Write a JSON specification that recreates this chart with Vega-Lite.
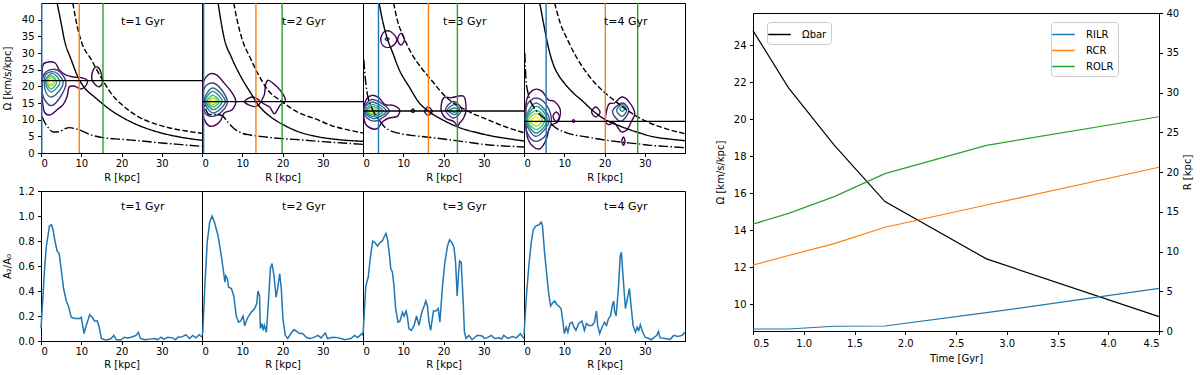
{
"$schema": "https://vega.github.io/schema/vega-lite/v6.json",
"background": "white",
"padding": {"left": 2, "top": 1, "right": 2, "bottom": 0},
"config": {
 "font": "DejaVu Sans",
 "view": {"stroke": "black", "strokeWidth": 1},
 "header": {"labelPadding": 0, "titlePadding": 0},
 "axis": {"grid": false, "labelOverlap": false, "domainColor": "black", "domainWidth": 1, "tickColor": "black", "tickWidth": 1, "tickSize": 3.5, "labelFontSize": 10, "labelColor": "black", "labelPadding": 3.5, "titleFontSize": 10, "titleFontWeight": "normal", "titleColor": "black", "titlePadding": 5},
 "legend": {"symbolType": "M-1.5,0H1.5", "symbolSize": 225, "symbolStrokeWidth": 1.5, "labelFontSize": 10, "labelColor": "black", "fillColor": "rgba(255,255,255,0.8)", "strokeColor": "#cccccc", "cornerRadius": 3, "padding": 4, "rowPadding": 2, "labelOffset": 14, "title": null}
},
"datasets": {
"top": [
{"kind":"v","t":1,"res":"ILR","R":0.2},{"kind":"v","t":1,"res":"CR","R":9.5},{"kind":"v","t":1,"res":"OLR","R":15.4},
{"kind":"v","t":2,"res":"ILR","R":0.4},{"kind":"v","t":2,"res":"CR","R":13.4},{"kind":"v","t":2,"res":"OLR","R":19.9},
{"kind":"v","t":3,"res":"ILR","R":3.85},{"kind":"v","t":3,"res":"CR","R":16.25},{"kind":"v","t":3,"res":"OLR","R":23.45},
{"kind":"v","t":4,"res":"ILR","R":5.5},{"kind":"v","t":4,"res":"CR","R":20.2},{"kind":"v","t":4,"res":"OLR","R":28.25},
{"kind":"h","t":1,"Om":21.7},{"kind":"h","t":2,"Om":15.4},{"kind":"h","t":3,"Om":12.6},{"kind":"h","t":4,"Om":9.5},
{"kind":"lab","t":1,"lab":"t=1 Gyr"},{"kind":"lab","t":2,"lab":"t=2 Gyr"},{"kind":"lab","t":3,"lab":"t=3 Gyr"},{"kind":"lab","t":4,"lab":"t=4 Gyr"},
{"kind":"cu","t":1,"cv":"solid","R":4.0,"Om":45},{"kind":"cu","t":1,"cv":"solid","R":5,"Om":39},{"kind":"cu","t":1,"cv":"solid","R":5.8,"Om":34},{"kind":"cu","t":1,"cv":"solid","R":7.5,"Om":28},{"kind":"cu","t":1,"cv":"solid","R":9.5,"Om":22},{"kind":"cu","t":1,"cv":"solid","R":11,"Om":19.3},{"kind":"cu","t":1,"cv":"solid","R":13.3,"Om":16.8},{"kind":"cu","t":1,"cv":"solid","R":17.4,"Om":12.8},{"kind":"cu","t":1,"cv":"solid","R":22.4,"Om":9.3},{"kind":"cu","t":1,"cv":"solid","R":29,"Om":6.3},{"kind":"cu","t":1,"cv":"solid","R":34,"Om":4.9},{"kind":"cu","t":1,"cv":"solid","R":40,"Om":3.8},
{"kind":"cu","t":1,"cv":"dashed","R":7.9,"Om":45},{"kind":"cu","t":1,"cv":"dashed","R":9,"Om":38},{"kind":"cu","t":1,"cv":"dashed","R":10,"Om":33.5},{"kind":"cu","t":1,"cv":"dashed","R":12.5,"Om":28},{"kind":"cu","t":1,"cv":"dashed","R":15.4,"Om":21.7},{"kind":"cu","t":1,"cv":"dashed","R":18,"Om":17},{"kind":"cu","t":1,"cv":"dashed","R":20,"Om":14.6},{"kind":"cu","t":1,"cv":"dashed","R":24,"Om":11},{"kind":"cu","t":1,"cv":"dashed","R":28,"Om":8.9},{"kind":"cu","t":1,"cv":"dashed","R":32,"Om":7.5},{"kind":"cu","t":1,"cv":"dashed","R":36,"Om":6.6},{"kind":"cu","t":1,"cv":"dashed","R":40,"Om":5.9},
{"kind":"cu","t":1,"cv":"dashdot","R":0.2,"Om":11},{"kind":"cu","t":1,"cv":"dashdot","R":1,"Om":9},{"kind":"cu","t":1,"cv":"dashdot","R":2,"Om":7.3},{"kind":"cu","t":1,"cv":"dashdot","R":3,"Om":6.3},{"kind":"cu","t":1,"cv":"dashdot","R":4.5,"Om":6.4},{"kind":"cu","t":1,"cv":"dashdot","R":6,"Om":7.3},{"kind":"cu","t":1,"cv":"dashdot","R":7,"Om":7.6},{"kind":"cu","t":1,"cv":"dashdot","R":8.5,"Om":7.3},{"kind":"cu","t":1,"cv":"dashdot","R":10,"Om":6.7},{"kind":"cu","t":1,"cv":"dashdot","R":12,"Om":5.6},{"kind":"cu","t":1,"cv":"dashdot","R":15,"Om":4.7},{"kind":"cu","t":1,"cv":"dashdot","R":20,"Om":4.1},{"kind":"cu","t":1,"cv":"dashdot","R":25,"Om":3.6},{"kind":"cu","t":1,"cv":"dashdot","R":30,"Om":3.0},{"kind":"cu","t":1,"cv":"dashdot","R":35,"Om":2.5},{"kind":"cu","t":1,"cv":"dashdot","R":40,"Om":2.0},
{"kind":"cu","t":2,"cv":"solid","R":4,"Om":45},{"kind":"cu","t":2,"cv":"solid","R":5,"Om":37.5},{"kind":"cu","t":2,"cv":"solid","R":5.6,"Om":34},{"kind":"cu","t":2,"cv":"solid","R":7.2,"Om":29},{"kind":"cu","t":2,"cv":"solid","R":9.7,"Om":22.8},{"kind":"cu","t":2,"cv":"solid","R":12.2,"Om":17.8},{"kind":"cu","t":2,"cv":"solid","R":13.4,"Om":15.4},{"kind":"cu","t":2,"cv":"solid","R":15,"Om":13},{"kind":"cu","t":2,"cv":"solid","R":17.1,"Om":10.8},{"kind":"cu","t":2,"cv":"solid","R":20,"Om":8.6},{"kind":"cu","t":2,"cv":"solid","R":23.7,"Om":6.5},{"kind":"cu","t":2,"cv":"solid","R":28.7,"Om":4.9},{"kind":"cu","t":2,"cv":"solid","R":34,"Om":4.0},{"kind":"cu","t":2,"cv":"solid","R":40,"Om":3.5},
{"kind":"cu","t":2,"cv":"dashed","R":7.9,"Om":45},{"kind":"cu","t":2,"cv":"dashed","R":8.7,"Om":40},{"kind":"cu","t":2,"cv":"dashed","R":10,"Om":34},{"kind":"cu","t":2,"cv":"dashed","R":12,"Om":28.5},{"kind":"cu","t":2,"cv":"dashed","R":13.8,"Om":24},{"kind":"cu","t":2,"cv":"dashed","R":16.3,"Om":19},{"kind":"cu","t":2,"cv":"dashed","R":19.9,"Om":15.4},{"kind":"cu","t":2,"cv":"dashed","R":23.7,"Om":12.3},{"kind":"cu","t":2,"cv":"dashed","R":28.7,"Om":10},{"kind":"cu","t":2,"cv":"dashed","R":32,"Om":8.3},{"kind":"cu","t":2,"cv":"dashed","R":36,"Om":7},{"kind":"cu","t":2,"cv":"dashed","R":40,"Om":6},
{"kind":"cu","t":2,"cv":"dashdot","R":0.2,"Om":18},{"kind":"cu","t":2,"cv":"dashdot","R":0.8,"Om":13.5},{"kind":"cu","t":2,"cv":"dashdot","R":2,"Om":11.5},{"kind":"cu","t":2,"cv":"dashdot","R":3.5,"Om":11.6},{"kind":"cu","t":2,"cv":"dashdot","R":5,"Om":11.2},{"kind":"cu","t":2,"cv":"dashdot","R":6.4,"Om":9.3},{"kind":"cu","t":2,"cv":"dashdot","R":8,"Om":7.3},{"kind":"cu","t":2,"cv":"dashdot","R":10,"Om":5.9},{"kind":"cu","t":2,"cv":"dashdot","R":12,"Om":5.4},{"kind":"cu","t":2,"cv":"dashdot","R":15,"Om":4.9},{"kind":"cu","t":2,"cv":"dashdot","R":20,"Om":4.3},{"kind":"cu","t":2,"cv":"dashdot","R":25,"Om":3.9},{"kind":"cu","t":2,"cv":"dashdot","R":30,"Om":3.4},{"kind":"cu","t":2,"cv":"dashdot","R":35,"Om":3.0},{"kind":"cu","t":2,"cv":"dashdot","R":40,"Om":2.6},
{"kind":"cu","t":3,"cv":"solid","R":4.0,"Om":45},{"kind":"cu","t":3,"cv":"solid","R":5,"Om":39},{"kind":"cu","t":3,"cv":"solid","R":6,"Om":34.5},{"kind":"cu","t":3,"cv":"solid","R":7.4,"Om":30},{"kind":"cu","t":3,"cv":"solid","R":9,"Om":25},{"kind":"cu","t":3,"cv":"solid","R":11.5,"Om":19.8},{"kind":"cu","t":3,"cv":"solid","R":14,"Om":15},{"kind":"cu","t":3,"cv":"solid","R":16.2,"Om":12.6},{"kind":"cu","t":3,"cv":"solid","R":20,"Om":9.8},{"kind":"cu","t":3,"cv":"solid","R":24,"Om":7.6},{"kind":"cu","t":3,"cv":"solid","R":28,"Om":6.2},{"kind":"cu","t":3,"cv":"solid","R":32,"Om":5.1},{"kind":"cu","t":3,"cv":"solid","R":36,"Om":4.3},{"kind":"cu","t":3,"cv":"solid","R":40,"Om":3.6},
{"kind":"cu","t":3,"cv":"dashed","R":7.6,"Om":45},{"kind":"cu","t":3,"cv":"dashed","R":8.5,"Om":40},{"kind":"cu","t":3,"cv":"dashed","R":10,"Om":35},{"kind":"cu","t":3,"cv":"dashed","R":12,"Om":30},{"kind":"cu","t":3,"cv":"dashed","R":14.5,"Om":25.5},{"kind":"cu","t":3,"cv":"dashed","R":16.9,"Om":22},{"kind":"cu","t":3,"cv":"dashed","R":20.6,"Om":16.8},{"kind":"cu","t":3,"cv":"dashed","R":23.9,"Om":14},{"kind":"cu","t":3,"cv":"dashed","R":27,"Om":12},{"kind":"cu","t":3,"cv":"dashed","R":31.4,"Om":9.8},{"kind":"cu","t":3,"cv":"dashed","R":35.5,"Om":7.8},{"kind":"cu","t":3,"cv":"dashed","R":40,"Om":6.1},
{"kind":"cu","t":3,"cv":"dashdot","R":0.2,"Om":28},{"kind":"cu","t":3,"cv":"dashdot","R":0.6,"Om":22},{"kind":"cu","t":3,"cv":"dashdot","R":1.2,"Om":17},{"kind":"cu","t":3,"cv":"dashdot","R":2,"Om":14},{"kind":"cu","t":3,"cv":"dashdot","R":3,"Om":11.5},{"kind":"cu","t":3,"cv":"dashdot","R":4.1,"Om":9.8},{"kind":"cu","t":3,"cv":"dashdot","R":5.2,"Om":8},{"kind":"cu","t":3,"cv":"dashdot","R":6.6,"Om":6.8},{"kind":"cu","t":3,"cv":"dashdot","R":9,"Om":5.9},{"kind":"cu","t":3,"cv":"dashdot","R":12,"Om":5.3},{"kind":"cu","t":3,"cv":"dashdot","R":15.7,"Om":4.8},{"kind":"cu","t":3,"cv":"dashdot","R":20,"Om":4.2},{"kind":"cu","t":3,"cv":"dashdot","R":25,"Om":3.4},{"kind":"cu","t":3,"cv":"dashdot","R":31.4,"Om":2.4},{"kind":"cu","t":3,"cv":"dashdot","R":35,"Om":2.1},{"kind":"cu","t":3,"cv":"dashdot","R":40,"Om":1.8},
{"kind":"cu","t":4,"cv":"solid","R":3.9,"Om":45},{"kind":"cu","t":4,"cv":"solid","R":5,"Om":38},{"kind":"cu","t":4,"cv":"solid","R":6,"Om":32},{"kind":"cu","t":4,"cv":"solid","R":7.3,"Om":26.5},{"kind":"cu","t":4,"cv":"solid","R":8.5,"Om":23.5},{"kind":"cu","t":4,"cv":"solid","R":10,"Om":21},{"kind":"cu","t":4,"cv":"solid","R":12,"Om":18.3},{"kind":"cu","t":4,"cv":"solid","R":14.8,"Om":15.3},{"kind":"cu","t":4,"cv":"solid","R":17,"Om":12.8},{"kind":"cu","t":4,"cv":"solid","R":20.2,"Om":10},{"kind":"cu","t":4,"cv":"solid","R":24,"Om":8},{"kind":"cu","t":4,"cv":"solid","R":28,"Om":6.3},{"kind":"cu","t":4,"cv":"solid","R":32,"Om":4.9},{"kind":"cu","t":4,"cv":"solid","R":36,"Om":4.2},{"kind":"cu","t":4,"cv":"solid","R":40,"Om":3.7},
{"kind":"cu","t":4,"cv":"dashed","R":7.6,"Om":45},{"kind":"cu","t":4,"cv":"dashed","R":9,"Om":39},{"kind":"cu","t":4,"cv":"dashed","R":11,"Om":33.5},{"kind":"cu","t":4,"cv":"dashed","R":13,"Om":28.8},{"kind":"cu","t":4,"cv":"dashed","R":15.6,"Om":24},{"kind":"cu","t":4,"cv":"dashed","R":17.6,"Om":21},{"kind":"cu","t":4,"cv":"dashed","R":19.7,"Om":18.5},{"kind":"cu","t":4,"cv":"dashed","R":22,"Om":16.2},{"kind":"cu","t":4,"cv":"dashed","R":24,"Om":14.3},{"kind":"cu","t":4,"cv":"dashed","R":28,"Om":11},{"kind":"cu","t":4,"cv":"dashed","R":31.3,"Om":9},{"kind":"cu","t":4,"cv":"dashed","R":35,"Om":7.4},{"kind":"cu","t":4,"cv":"dashed","R":40,"Om":5.8},
{"kind":"cu","t":4,"cv":"dashdot","R":0.2,"Om":30},{"kind":"cu","t":4,"cv":"dashdot","R":0.5,"Om":22},{"kind":"cu","t":4,"cv":"dashdot","R":1,"Om":18},{"kind":"cu","t":4,"cv":"dashdot","R":2.4,"Om":13.8},{"kind":"cu","t":4,"cv":"dashdot","R":4,"Om":11.5},{"kind":"cu","t":4,"cv":"dashdot","R":5.7,"Om":9.8},{"kind":"cu","t":4,"cv":"dashdot","R":8.2,"Om":7.3},{"kind":"cu","t":4,"cv":"dashdot","R":11,"Om":5.9},{"kind":"cu","t":4,"cv":"dashdot","R":15.6,"Om":4.8},{"kind":"cu","t":4,"cv":"dashdot","R":20,"Om":3.9},{"kind":"cu","t":4,"cv":"dashdot","R":23.9,"Om":3.3},{"kind":"cu","t":4,"cv":"dashdot","R":28,"Om":2.8},{"kind":"cu","t":4,"cv":"dashdot","R":31.3,"Om":2.3},{"kind":"cu","t":4,"cv":"dashdot","R":35,"Om":2.0},{"kind":"cu","t":4,"cv":"dashdot","R":40,"Om":1.6},
{"kind":"c","t":1,"cid":"1a","lev":1,"R":0.4,"Om":26},{"kind":"c","t":1,"cid":"1a","lev":1,"R":1.5,"Om":27.2},{"kind":"c","t":1,"cid":"1a","lev":1,"R":3.5,"Om":27},{"kind":"c","t":1,"cid":"1a","lev":1,"R":4.5,"Om":25},{"kind":"c","t":1,"cid":"1a","lev":1,"R":6,"Om":23.5},{"kind":"c","t":1,"cid":"1a","lev":1,"R":8,"Om":22.8},{"kind":"c","t":1,"cid":"1a","lev":1,"R":10,"Om":22.6},{"kind":"c","t":1,"cid":"1a","lev":1,"R":11.5,"Om":21.8},{"kind":"c","t":1,"cid":"1a","lev":1,"R":11,"Om":20},{"kind":"c","t":1,"cid":"1a","lev":1,"R":9.8,"Om":19.2},{"kind":"c","t":1,"cid":"1a","lev":1,"R":8.5,"Om":20},{"kind":"c","t":1,"cid":"1a","lev":1,"R":7,"Om":19.8},{"kind":"c","t":1,"cid":"1a","lev":1,"R":6.5,"Om":17},{"kind":"c","t":1,"cid":"1a","lev":1,"R":5.5,"Om":14.5},{"kind":"c","t":1,"cid":"1a","lev":1,"R":4,"Om":13},{"kind":"c","t":1,"cid":"1a","lev":1,"R":2.5,"Om":11.5},{"kind":"c","t":1,"cid":"1a","lev":1,"R":1,"Om":12},{"kind":"c","t":1,"cid":"1a","lev":1,"R":0.4,"Om":15},{"kind":"c","t":1,"cid":"1a","lev":1,"R":0.3,"Om":20},
{"kind":"c","t":1,"cid":"1b","lev":2,"R":6.2,"Om":21},{"kind":"c","t":1,"cid":"1b","lev":2,"R":4.8,"Om":24.2},{"kind":"c","t":1,"cid":"1b","lev":2,"R":3,"Om":25.1},{"kind":"c","t":1,"cid":"1b","lev":2,"R":1,"Om":24},{"kind":"c","t":1,"cid":"1b","lev":2,"R":0.3,"Om":21.5},{"kind":"c","t":1,"cid":"1b","lev":2,"R":0.5,"Om":17},{"kind":"c","t":1,"cid":"1b","lev":2,"R":2.5,"Om":14.2},{"kind":"c","t":1,"cid":"1b","lev":2,"R":4.8,"Om":16.8},
{"kind":"c","t":1,"cid":"1c","lev":3,"R":5.5,"Om":21},{"kind":"c","t":1,"cid":"1c","lev":3,"R":4.3,"Om":23.6},{"kind":"c","t":1,"cid":"1c","lev":3,"R":2.8,"Om":24.4},{"kind":"c","t":1,"cid":"1c","lev":3,"R":1.2,"Om":23.5},{"kind":"c","t":1,"cid":"1c","lev":3,"R":0.8,"Om":21},{"kind":"c","t":1,"cid":"1c","lev":3,"R":1.3,"Om":18},{"kind":"c","t":1,"cid":"1c","lev":3,"R":2.6,"Om":16.8},{"kind":"c","t":1,"cid":"1c","lev":3,"R":4.3,"Om":18.3},
{"kind":"c","t":1,"cid":"1d","lev":4,"R":4.7,"Om":21.2},{"kind":"c","t":1,"cid":"1d","lev":4,"R":2.8,"Om":23.9},{"kind":"c","t":1,"cid":"1d","lev":4,"R":1.0,"Om":21.5},{"kind":"c","t":1,"cid":"1d","lev":4,"R":2.5,"Om":18.3},
{"kind":"c","t":1,"cid":"1e","lev":5,"R":3.9,"Om":21.2},{"kind":"c","t":1,"cid":"1e","lev":5,"R":2.6,"Om":23.2},{"kind":"c","t":1,"cid":"1e","lev":5,"R":1.3,"Om":21.5},{"kind":"c","t":1,"cid":"1e","lev":5,"R":2.5,"Om":19.2},
{"kind":"c","t":1,"cid":"1f","lev":6,"R":3.4,"Om":21.4},{"kind":"c","t":1,"cid":"1f","lev":6,"R":2.5,"Om":22.7},{"kind":"c","t":1,"cid":"1f","lev":6,"R":1.6,"Om":21.5},{"kind":"c","t":1,"cid":"1f","lev":6,"R":2.5,"Om":20.2},
{"kind":"c","t":1,"cid":"1g","lev":7,"R":2.9,"Om":21.4},{"kind":"c","t":1,"cid":"1g","lev":7,"R":2.4,"Om":22.2},{"kind":"c","t":1,"cid":"1g","lev":7,"R":1.9,"Om":21.4},{"kind":"c","t":1,"cid":"1g","lev":7,"R":2.4,"Om":20.7},
{"kind":"c","t":1,"cid":"1h","lev":1,"R":12.6,"Om":22.3},{"kind":"c","t":1,"cid":"1h","lev":1,"R":13,"Om":25},{"kind":"c","t":1,"cid":"1h","lev":1,"R":14,"Om":25.8},{"kind":"c","t":1,"cid":"1h","lev":1,"R":14.8,"Om":24.5},{"kind":"c","t":1,"cid":"1h","lev":1,"R":15.3,"Om":21.5},{"kind":"c","t":1,"cid":"1h","lev":1,"R":14.6,"Om":19.9},{"kind":"c","t":1,"cid":"1h","lev":1,"R":13.5,"Om":20.5},
{"kind":"c","t":2,"cid":"2a","lev":1,"R":0.1,"Om":20},{"kind":"c","t":2,"cid":"2a","lev":1,"R":1.5,"Om":23.4},{"kind":"c","t":2,"cid":"2a","lev":1,"R":3.5,"Om":23.5},{"kind":"c","t":2,"cid":"2a","lev":1,"R":5.5,"Om":21},{"kind":"c","t":2,"cid":"2a","lev":1,"R":7.5,"Om":18},{"kind":"c","t":2,"cid":"2a","lev":1,"R":8.4,"Om":15.5},{"kind":"c","t":2,"cid":"2a","lev":1,"R":7.5,"Om":13},{"kind":"c","t":2,"cid":"2a","lev":1,"R":5.5,"Om":12},{"kind":"c","t":2,"cid":"2a","lev":1,"R":4.5,"Om":9.5},{"kind":"c","t":2,"cid":"2a","lev":1,"R":2.5,"Om":8},{"kind":"c","t":2,"cid":"2a","lev":1,"R":1,"Om":9},{"kind":"c","t":2,"cid":"2a","lev":1,"R":0.2,"Om":12},
{"kind":"c","t":2,"cid":"2b","lev":2,"R":6.3,"Om":15.5},{"kind":"c","t":2,"cid":"2b","lev":2,"R":4.5,"Om":19.5},{"kind":"c","t":2,"cid":"2b","lev":2,"R":2.5,"Om":21},{"kind":"c","t":2,"cid":"2b","lev":2,"R":0.6,"Om":19.5},{"kind":"c","t":2,"cid":"2b","lev":2,"R":0.3,"Om":15.5},{"kind":"c","t":2,"cid":"2b","lev":2,"R":0.8,"Om":12},{"kind":"c","t":2,"cid":"2b","lev":2,"R":2.7,"Om":11},{"kind":"c","t":2,"cid":"2b","lev":2,"R":5,"Om":12.5},
{"kind":"c","t":2,"cid":"2c","lev":3,"R":5.8,"Om":15.5},{"kind":"c","t":2,"cid":"2c","lev":3,"R":2.7,"Om":19.5},{"kind":"c","t":2,"cid":"2c","lev":3,"R":0.6,"Om":15.7},{"kind":"c","t":2,"cid":"2c","lev":3,"R":2.8,"Om":12},
{"kind":"c","t":2,"cid":"2d","lev":4,"R":5.0,"Om":15.5},{"kind":"c","t":2,"cid":"2d","lev":4,"R":2.7,"Om":18.5},{"kind":"c","t":2,"cid":"2d","lev":4,"R":0.9,"Om":15.7},{"kind":"c","t":2,"cid":"2d","lev":4,"R":2.8,"Om":13},
{"kind":"c","t":2,"cid":"2e","lev":5,"R":4.3,"Om":15.5},{"kind":"c","t":2,"cid":"2e","lev":5,"R":2.7,"Om":17.3},{"kind":"c","t":2,"cid":"2e","lev":5,"R":1.3,"Om":15.6},{"kind":"c","t":2,"cid":"2e","lev":5,"R":2.7,"Om":13.8},
{"kind":"c","t":2,"cid":"2f","lev":6,"R":3.8,"Om":15.5},{"kind":"c","t":2,"cid":"2f","lev":6,"R":2.7,"Om":16.6},{"kind":"c","t":2,"cid":"2f","lev":6,"R":1.7,"Om":15.5},{"kind":"c","t":2,"cid":"2f","lev":6,"R":2.7,"Om":14.5},
{"kind":"c","t":2,"cid":"2g","lev":7,"R":3.3,"Om":15.5},{"kind":"c","t":2,"cid":"2g","lev":7,"R":2.7,"Om":16.1},{"kind":"c","t":2,"cid":"2g","lev":7,"R":2.0,"Om":15.5},{"kind":"c","t":2,"cid":"2g","lev":7,"R":2.7,"Om":15.0},
{"kind":"c","t":2,"cid":"2h","lev":1,"R":10.6,"Om":15.3},{"kind":"c","t":2,"cid":"2h","lev":1,"R":12.5,"Om":16.8},{"kind":"c","t":2,"cid":"2h","lev":1,"R":14.5,"Om":15.3},{"kind":"c","t":2,"cid":"2h","lev":1,"R":13,"Om":13.9},
{"kind":"c","t":2,"cid":"2i","lev":1,"R":16.5,"Om":21.8},{"kind":"c","t":2,"cid":"2i","lev":1,"R":18.5,"Om":20},{"kind":"c","t":2,"cid":"2i","lev":1,"R":20.2,"Om":17.5},{"kind":"c","t":2,"cid":"2i","lev":1,"R":20.7,"Om":15.5},{"kind":"c","t":2,"cid":"2i","lev":1,"R":19.5,"Om":14.5},{"kind":"c","t":2,"cid":"2i","lev":1,"R":18,"Om":11.8},{"kind":"c","t":2,"cid":"2i","lev":1,"R":16.8,"Om":13.8},{"kind":"c","t":2,"cid":"2i","lev":1,"R":14.8,"Om":15.3},{"kind":"c","t":2,"cid":"2i","lev":1,"R":15.5,"Om":17.5},{"kind":"c","t":2,"cid":"2i","lev":1,"R":15.8,"Om":20.5},
{"kind":"c","t":3,"cid":"3a","lev":1,"R":0.2,"Om":13},{"kind":"c","t":3,"cid":"3a","lev":1,"R":0.8,"Om":16},{"kind":"c","t":3,"cid":"3a","lev":1,"R":2.3,"Om":17.3},{"kind":"c","t":3,"cid":"3a","lev":1,"R":4,"Om":16.5},{"kind":"c","t":3,"cid":"3a","lev":1,"R":5.5,"Om":14.5},{"kind":"c","t":3,"cid":"3a","lev":1,"R":7.5,"Om":14.3},{"kind":"c","t":3,"cid":"3a","lev":1,"R":9.1,"Om":13},{"kind":"c","t":3,"cid":"3a","lev":1,"R":8.5,"Om":11},{"kind":"c","t":3,"cid":"3a","lev":1,"R":6.5,"Om":10.5},{"kind":"c","t":3,"cid":"3a","lev":1,"R":5,"Om":9.5},{"kind":"c","t":3,"cid":"3a","lev":1,"R":3.5,"Om":7.3},{"kind":"c","t":3,"cid":"3a","lev":1,"R":1.8,"Om":7.5},{"kind":"c","t":3,"cid":"3a","lev":1,"R":0.5,"Om":9},
{"kind":"c","t":3,"cid":"3b","lev":2,"R":6.5,"Om":12.6},{"kind":"c","t":3,"cid":"3b","lev":2,"R":4.5,"Om":15},{"kind":"c","t":3,"cid":"3b","lev":2,"R":2,"Om":16},{"kind":"c","t":3,"cid":"3b","lev":2,"R":0.3,"Om":13.5},{"kind":"c","t":3,"cid":"3b","lev":2,"R":1,"Om":10.5},{"kind":"c","t":3,"cid":"3b","lev":2,"R":3.5,"Om":9.7},
{"kind":"c","t":3,"cid":"3c","lev":3,"R":5.8,"Om":12.6},{"kind":"c","t":3,"cid":"3c","lev":3,"R":2.3,"Om":15.3},{"kind":"c","t":3,"cid":"3c","lev":3,"R":0.4,"Om":12.8},{"kind":"c","t":3,"cid":"3c","lev":3,"R":2.5,"Om":10.3},
{"kind":"c","t":3,"cid":"3d","lev":4,"R":5.0,"Om":12.6},{"kind":"c","t":3,"cid":"3d","lev":4,"R":2.4,"Om":14.5},{"kind":"c","t":3,"cid":"3d","lev":4,"R":0.7,"Om":12.7},{"kind":"c","t":3,"cid":"3d","lev":4,"R":2.5,"Om":10.9},
{"kind":"c","t":3,"cid":"3e","lev":5,"R":4.3,"Om":12.6},{"kind":"c","t":3,"cid":"3e","lev":5,"R":2.4,"Om":13.9},{"kind":"c","t":3,"cid":"3e","lev":5,"R":1.0,"Om":12.6},{"kind":"c","t":3,"cid":"3e","lev":5,"R":2.5,"Om":11.4},
{"kind":"c","t":3,"cid":"3f","lev":6,"R":3.6,"Om":12.6},{"kind":"c","t":3,"cid":"3f","lev":6,"R":2.4,"Om":13.3},{"kind":"c","t":3,"cid":"3f","lev":6,"R":1.4,"Om":12.6},{"kind":"c","t":3,"cid":"3f","lev":6,"R":2.4,"Om":11.9},
{"kind":"c","t":3,"cid":"3g","lev":7,"R":3.1,"Om":12.6},{"kind":"c","t":3,"cid":"3g","lev":7,"R":2.4,"Om":12.95},{"kind":"c","t":3,"cid":"3g","lev":7,"R":1.7,"Om":12.6},{"kind":"c","t":3,"cid":"3g","lev":7,"R":2.4,"Om":12.25},
{"kind":"c","t":3,"cid":"3h","lev":1,"R":12.8,"Om":12.6},{"kind":"c","t":3,"cid":"3h","lev":1,"R":12.4,"Om":13.2},{"kind":"c","t":3,"cid":"3h","lev":1,"R":12.0,"Om":12.6},{"kind":"c","t":3,"cid":"3h","lev":1,"R":12.4,"Om":12.1},
{"kind":"c","t":3,"cid":"3i","lev":1,"R":17.2,"Om":12.5},{"kind":"c","t":3,"cid":"3i","lev":1,"R":16.2,"Om":13.8},{"kind":"c","t":3,"cid":"3i","lev":1,"R":15.3,"Om":12.5},{"kind":"c","t":3,"cid":"3i","lev":1,"R":16.2,"Om":11.3},
{"kind":"c","t":3,"cid":"3j","lev":1,"R":19.4,"Om":13},{"kind":"c","t":3,"cid":"3j","lev":1,"R":20,"Om":16.5},{"kind":"c","t":3,"cid":"3j","lev":1,"R":22,"Om":16.6},{"kind":"c","t":3,"cid":"3j","lev":1,"R":25,"Om":17},{"kind":"c","t":3,"cid":"3j","lev":1,"R":25.6,"Om":13},{"kind":"c","t":3,"cid":"3j","lev":1,"R":25,"Om":10.5},{"kind":"c","t":3,"cid":"3j","lev":1,"R":24,"Om":9},{"kind":"c","t":3,"cid":"3j","lev":1,"R":23.5,"Om":8},{"kind":"c","t":3,"cid":"3j","lev":1,"R":22.5,"Om":9.5},{"kind":"c","t":3,"cid":"3j","lev":1,"R":20.5,"Om":10.5},
{"kind":"c","t":3,"cid":"3k","lev":2,"R":24.5,"Om":13},{"kind":"c","t":3,"cid":"3k","lev":2,"R":22.5,"Om":15.5},{"kind":"c","t":3,"cid":"3k","lev":2,"R":20.5,"Om":13},{"kind":"c","t":3,"cid":"3k","lev":2,"R":22.5,"Om":10.5},
{"kind":"c","t":3,"cid":"3l","lev":3,"R":24,"Om":13},{"kind":"c","t":3,"cid":"3l","lev":3,"R":22.7,"Om":14.5},{"kind":"c","t":3,"cid":"3l","lev":3,"R":21,"Om":13},{"kind":"c","t":3,"cid":"3l","lev":3,"R":22.7,"Om":11.5},
{"kind":"c","t":3,"cid":"3m","lev":4,"R":23.8,"Om":12.9},{"kind":"c","t":3,"cid":"3m","lev":4,"R":22.7,"Om":13.5},{"kind":"c","t":3,"cid":"3m","lev":4,"R":21.5,"Om":12.9},{"kind":"c","t":3,"cid":"3m","lev":4,"R":22.7,"Om":12.2},
{"kind":"c","t":3,"cid":"3n","lev":1,"R":4.4,"Om":34},{"kind":"c","t":3,"cid":"3n","lev":1,"R":5.2,"Om":36.3},{"kind":"c","t":3,"cid":"3n","lev":1,"R":7,"Om":36.3},{"kind":"c","t":3,"cid":"3n","lev":1,"R":8.4,"Om":34},{"kind":"c","t":3,"cid":"3n","lev":1,"R":7.2,"Om":32},{"kind":"c","t":3,"cid":"3n","lev":1,"R":5.3,"Om":31.9},
{"kind":"c","t":3,"cid":"3o","lev":2,"R":6.5,"Om":34.2},{"kind":"c","t":3,"cid":"3o","lev":2,"R":6,"Om":34.6},{"kind":"c","t":3,"cid":"3o","lev":2,"R":5.5,"Om":34.2},{"kind":"c","t":3,"cid":"3o","lev":2,"R":6,"Om":33.8},
{"kind":"c","t":3,"cid":"3p","lev":1,"R":8.6,"Om":34},{"kind":"c","t":3,"cid":"3p","lev":1,"R":9.4,"Om":35.9},{"kind":"c","t":3,"cid":"3p","lev":1,"R":10.3,"Om":34},{"kind":"c","t":3,"cid":"3p","lev":1,"R":9.4,"Om":32.4},
{"kind":"c","t":4,"cid":"4a","lev":1,"R":0.4,"Om":12},{"kind":"c","t":4,"cid":"4a","lev":1,"R":0.8,"Om":16.5},{"kind":"c","t":4,"cid":"4a","lev":1,"R":2.5,"Om":19},{"kind":"c","t":4,"cid":"4a","lev":1,"R":4.5,"Om":18.5},{"kind":"c","t":4,"cid":"4a","lev":1,"R":6,"Om":16},{"kind":"c","t":4,"cid":"4a","lev":1,"R":7.5,"Om":15.5},{"kind":"c","t":4,"cid":"4a","lev":1,"R":9,"Om":13},{"kind":"c","t":4,"cid":"4a","lev":1,"R":8.5,"Om":9.5},{"kind":"c","t":4,"cid":"4a","lev":1,"R":6.5,"Om":8},{"kind":"c","t":4,"cid":"4a","lev":1,"R":5.5,"Om":4},{"kind":"c","t":4,"cid":"4a","lev":1,"R":4,"Om":1.3},{"kind":"c","t":4,"cid":"4a","lev":1,"R":2.2,"Om":2},{"kind":"c","t":4,"cid":"4a","lev":1,"R":0.8,"Om":5},
{"kind":"c","t":4,"cid":"4b","lev":2,"R":6.8,"Om":10},{"kind":"c","t":4,"cid":"4b","lev":2,"R":5.5,"Om":14.5},{"kind":"c","t":4,"cid":"4b","lev":2,"R":3,"Om":16.5},{"kind":"c","t":4,"cid":"4b","lev":2,"R":0.8,"Om":14.5},{"kind":"c","t":4,"cid":"4b","lev":2,"R":0.3,"Om":10},{"kind":"c","t":4,"cid":"4b","lev":2,"R":1,"Om":5.5},{"kind":"c","t":4,"cid":"4b","lev":2,"R":3,"Om":3.5},{"kind":"c","t":4,"cid":"4b","lev":2,"R":5.5,"Om":5.5},
{"kind":"c","t":4,"cid":"4c","lev":3,"R":6.3,"Om":10},{"kind":"c","t":4,"cid":"4c","lev":3,"R":3,"Om":15},{"kind":"c","t":4,"cid":"4c","lev":3,"R":0.4,"Om":10},{"kind":"c","t":4,"cid":"4c","lev":3,"R":3,"Om":5},
{"kind":"c","t":4,"cid":"4d","lev":4,"R":5.8,"Om":10},{"kind":"c","t":4,"cid":"4d","lev":4,"R":3.1,"Om":14},{"kind":"c","t":4,"cid":"4d","lev":4,"R":0.6,"Om":10},{"kind":"c","t":4,"cid":"4d","lev":4,"R":3.1,"Om":6},
{"kind":"c","t":4,"cid":"4e","lev":5,"R":5.2,"Om":10},{"kind":"c","t":4,"cid":"4e","lev":5,"R":3.1,"Om":12.8},{"kind":"c","t":4,"cid":"4e","lev":5,"R":0.8,"Om":10},{"kind":"c","t":4,"cid":"4e","lev":5,"R":3.1,"Om":7},
{"kind":"c","t":4,"cid":"4f","lev":6,"R":4.5,"Om":10},{"kind":"c","t":4,"cid":"4f","lev":6,"R":3.1,"Om":11.8},{"kind":"c","t":4,"cid":"4f","lev":6,"R":1.2,"Om":10},{"kind":"c","t":4,"cid":"4f","lev":6,"R":3.1,"Om":8},
{"kind":"c","t":4,"cid":"4g","lev":7,"R":3.8,"Om":9.9},{"kind":"c","t":4,"cid":"4g","lev":7,"R":3.0,"Om":10.8},{"kind":"c","t":4,"cid":"4g","lev":7,"R":1.8,"Om":9.9},{"kind":"c","t":4,"cid":"4g","lev":7,"R":3.0,"Om":9.0},
{"kind":"c","t":4,"cid":"4h","lev":1,"R":8.8,"Om":11},{"kind":"c","t":4,"cid":"4h","lev":1,"R":8,"Om":12.3},{"kind":"c","t":4,"cid":"4h","lev":1,"R":7.2,"Om":11},{"kind":"c","t":4,"cid":"4h","lev":1,"R":8,"Om":9.4},
{"kind":"c","t":4,"cid":"4i","lev":1,"R":12.6,"Om":9.6},{"kind":"c","t":4,"cid":"4i","lev":1,"R":12.3,"Om":10},{"kind":"c","t":4,"cid":"4i","lev":1,"R":12.0,"Om":9.6},{"kind":"c","t":4,"cid":"4i","lev":1,"R":12.3,"Om":9.2},
{"kind":"c","t":4,"cid":"4j","lev":1,"R":18.9,"Om":12.3},{"kind":"c","t":4,"cid":"4j","lev":1,"R":17.8,"Om":13.8},{"kind":"c","t":4,"cid":"4j","lev":1,"R":16.8,"Om":12.3},{"kind":"c","t":4,"cid":"4j","lev":1,"R":17.8,"Om":10.8},
{"kind":"c","t":4,"cid":"4k","lev":1,"R":20.2,"Om":10},{"kind":"c","t":4,"cid":"4k","lev":1,"R":21,"Om":14.5},{"kind":"c","t":4,"cid":"4k","lev":1,"R":22.5,"Om":15},{"kind":"c","t":4,"cid":"4k","lev":1,"R":24.3,"Om":16.8},{"kind":"c","t":4,"cid":"4k","lev":1,"R":26,"Om":15.5},{"kind":"c","t":4,"cid":"4k","lev":1,"R":27.5,"Om":12},{"kind":"c","t":4,"cid":"4k","lev":1,"R":26.5,"Om":9},{"kind":"c","t":4,"cid":"4k","lev":1,"R":25.5,"Om":6.8},{"kind":"c","t":4,"cid":"4k","lev":1,"R":24,"Om":6.5},{"kind":"c","t":4,"cid":"4k","lev":1,"R":22.5,"Om":9},{"kind":"c","t":4,"cid":"4k","lev":1,"R":21,"Om":8.5},
{"kind":"c","t":4,"cid":"4l","lev":2,"R":26,"Om":12.5},{"kind":"c","t":4,"cid":"4l","lev":2,"R":24.5,"Om":15},{"kind":"c","t":4,"cid":"4l","lev":2,"R":22,"Om":12.5},{"kind":"c","t":4,"cid":"4l","lev":2,"R":24,"Om":9.5},
{"kind":"c","t":4,"cid":"4m","lev":3,"R":25.5,"Om":12.8},{"kind":"c","t":4,"cid":"4m","lev":3,"R":24.3,"Om":14.5},{"kind":"c","t":4,"cid":"4m","lev":3,"R":23,"Om":12.8},{"kind":"c","t":4,"cid":"4m","lev":3,"R":24.3,"Om":11},
{"kind":"c","t":4,"cid":"4n","lev":4,"R":25,"Om":13.2},{"kind":"c","t":4,"cid":"4n","lev":4,"R":24.4,"Om":14},{"kind":"c","t":4,"cid":"4n","lev":4,"R":23.8,"Om":13.2},{"kind":"c","t":4,"cid":"4n","lev":4,"R":24.4,"Om":12.5},
{"kind":"c","t":4,"cid":"4o","lev":1,"R":25.1,"Om":3.6},{"kind":"c","t":4,"cid":"4o","lev":1,"R":24.7,"Om":4.8},{"kind":"c","t":4,"cid":"4o","lev":1,"R":24.3,"Om":3.6},{"kind":"c","t":4,"cid":"4o","lev":1,"R":24.7,"Om":2.3}
],
"a2": [
{"t":1,"lab":"t=1 Gyr"},{"t":2,"lab":"t=2 Gyr"},{"t":3,"lab":"t=3 Gyr"},{"t":4,"lab":"t=4 Gyr"},
{"t":1,"R":0,"A":0.1},{"t":1,"R":0.9,"A":0.58},{"t":1,"R":1.3,"A":0.75},{"t":1,"R":2.1,"A":0.92},{"t":1,"R":2.6,"A":0.93},{"t":1,"R":3.0,"A":0.89},{"t":1,"R":3.4,"A":0.81},{"t":1,"R":4.0,"A":0.72},{"t":1,"R":4.5,"A":0.7},{"t":1,"R":5.0,"A":0.58},{"t":1,"R":5.6,"A":0.42},{"t":1,"R":6.3,"A":0.32},{"t":1,"R":6.9,"A":0.27},{"t":1,"R":7.5,"A":0.19},{"t":1,"R":8.3,"A":0.18},{"t":1,"R":9.0,"A":0.18},{"t":1,"R":9.6,"A":0.18},{"t":1,"R":10,"A":0.19},{"t":1,"R":10.7,"A":0.06},{"t":1,"R":11.2,"A":0.12},{"t":1,"R":12.1,"A":0.21},{"t":1,"R":12.7,"A":0.19},{"t":1,"R":13.3,"A":0.16},{"t":1,"R":14,"A":0.16},{"t":1,"R":14.4,"A":0.12},{"t":1,"R":15,"A":0.02},{"t":1,"R":15.8,"A":0.01},{"t":1,"R":16.6,"A":0.01},{"t":1,"R":17.4,"A":0.02},{"t":1,"R":18.1,"A":0.045},{"t":1,"R":18.7,"A":0.01},{"t":1,"R":19.9,"A":0.01},{"t":1,"R":20.7,"A":0.03},{"t":1,"R":21.5,"A":0.025},{"t":1,"R":22.4,"A":0.03},{"t":1,"R":23.6,"A":0.045},{"t":1,"R":24.2,"A":0.07},{"t":1,"R":24.7,"A":0.02},{"t":1,"R":25.7,"A":0.01},{"t":1,"R":27,"A":0.015},{"t":1,"R":28.2,"A":0.02},{"t":1,"R":29,"A":0.01},{"t":1,"R":29.8,"A":0.03},{"t":1,"R":30.5,"A":0.015},{"t":1,"R":31.5,"A":0.03},{"t":1,"R":32.7,"A":0.025},{"t":1,"R":33.4,"A":0.01},{"t":1,"R":34,"A":0.03},{"t":1,"R":35.2,"A":0.035},{"t":1,"R":36,"A":0.05},{"t":1,"R":36.9,"A":0.02},{"t":1,"R":37.7,"A":0.045},{"t":1,"R":38.5,"A":0.025},{"t":1,"R":39.3,"A":0.05},{"t":1,"R":40,"A":0.03},
{"t":2,"R":0,"A":0.05},{"t":2,"R":0.2,"A":0.07},{"t":2,"R":0.7,"A":0.44},{"t":2,"R":1.3,"A":0.79},{"t":2,"R":1.9,"A":0.95},{"t":2,"R":2.5,"A":1.0},{"t":2,"R":3.1,"A":0.95},{"t":2,"R":4.0,"A":0.84},{"t":2,"R":4.8,"A":0.68},{"t":2,"R":5.5,"A":0.52},{"t":2,"R":5.7,"A":0.47},{"t":2,"R":5.9,"A":0.52},{"t":2,"R":6.3,"A":0.5},{"t":2,"R":6.6,"A":0.43},{"t":2,"R":7.3,"A":0.42},{"t":2,"R":7.9,"A":0.36},{"t":2,"R":8.5,"A":0.2},{"t":2,"R":9.1,"A":0.15},{"t":2,"R":9.6,"A":0.16},{"t":2,"R":10.2,"A":0.2},{"t":2,"R":10.6,"A":0.12},{"t":2,"R":11,"A":0.16},{"t":2,"R":11.4,"A":0.19},{"t":2,"R":12.2,"A":0.23},{"t":2,"R":13.1,"A":0.26},{"t":2,"R":13.6,"A":0.3},{"t":2,"R":13.9,"A":0.4},{"t":2,"R":14.3,"A":0.36},{"t":2,"R":14.5,"A":0.1},{"t":2,"R":14.9,"A":0.14},{"t":2,"R":15.2,"A":0.085},{"t":2,"R":15.5,"A":0.125},{"t":2,"R":16,"A":0.07},{"t":2,"R":16.5,"A":0.31},{"t":2,"R":17,"A":0.58},{"t":2,"R":17.4,"A":0.62},{"t":2,"R":17.9,"A":0.52},{"t":2,"R":18.4,"A":0.35},{"t":2,"R":18.8,"A":0.42},{"t":2,"R":19.3,"A":0.54},{"t":2,"R":19.7,"A":0.42},{"t":2,"R":20.1,"A":0.18},{"t":2,"R":20.7,"A":0.045},{"t":2,"R":21.3,"A":0.02},{"t":2,"R":22.1,"A":0.06},{"t":2,"R":22.8,"A":0.09},{"t":2,"R":23.4,"A":0.08},{"t":2,"R":24.2,"A":0.06},{"t":2,"R":25,"A":0.06},{"t":2,"R":25.9,"A":0.03},{"t":2,"R":26.7,"A":0.02},{"t":2,"R":27.5,"A":0.025},{"t":2,"R":28.8,"A":0.045},{"t":2,"R":29.6,"A":0.025},{"t":2,"R":30.6,"A":0.065},{"t":2,"R":31.2,"A":0.02},{"t":2,"R":32.5,"A":0.03},{"t":2,"R":33.7,"A":0.027},{"t":2,"R":34.5,"A":0.02},{"t":2,"R":35.4,"A":0.01},{"t":2,"R":36.2,"A":0.015},{"t":2,"R":37,"A":0.02},{"t":2,"R":37.9,"A":0.045},{"t":2,"R":38.7,"A":0.027},{"t":2,"R":39.7,"A":0.058},{"t":2,"R":40,"A":0.045},
{"t":3,"R":0,"A":0.06},{"t":3,"R":0.1,"A":0.1},{"t":3,"R":0.7,"A":0.44},{"t":3,"R":1.3,"A":0.51},{"t":3,"R":1.8,"A":0.66},{"t":3,"R":2.4,"A":0.8},{"t":3,"R":2.9,"A":0.79},{"t":3,"R":3.6,"A":0.76},{"t":3,"R":4.3,"A":0.79},{"t":3,"R":4.8,"A":0.8},{"t":3,"R":5.2,"A":0.83},{"t":3,"R":5.7,"A":0.86},{"t":3,"R":6.1,"A":0.81},{"t":3,"R":6.5,"A":0.71},{"t":3,"R":6.9,"A":0.58},{"t":3,"R":7.3,"A":0.55},{"t":3,"R":7.7,"A":0.44},{"t":3,"R":8.1,"A":0.26},{"t":3,"R":8.7,"A":0.15},{"t":3,"R":9.2,"A":0.16},{"t":3,"R":9.8,"A":0.23},{"t":3,"R":10.2,"A":0.2},{"t":3,"R":10.7,"A":0.24},{"t":3,"R":11,"A":0.2},{"t":3,"R":11.4,"A":0.1},{"t":3,"R":12,"A":0.085},{"t":3,"R":12.7,"A":0.125},{"t":3,"R":13.3,"A":0.2},{"t":3,"R":13.9,"A":0.125},{"t":3,"R":14.6,"A":0.23},{"t":3,"R":15.2,"A":0.28},{"t":3,"R":15.6,"A":0.32},{"t":3,"R":16,"A":0.28},{"t":3,"R":16.4,"A":0.15},{"t":3,"R":16.8,"A":0.085},{"t":3,"R":17.5,"A":0.24},{"t":3,"R":18.1,"A":0.24},{"t":3,"R":18.7,"A":0.26},{"t":3,"R":19.1,"A":0.15},{"t":3,"R":19.7,"A":0.42},{"t":3,"R":20.3,"A":0.62},{"t":3,"R":21,"A":0.76},{"t":3,"R":21.5,"A":0.81},{"t":3,"R":22,"A":0.79},{"t":3,"R":22.6,"A":0.75},{"t":3,"R":23,"A":0.63},{"t":3,"R":23.4,"A":0.36},{"t":3,"R":23.7,"A":0.52},{"t":3,"R":24,"A":0.64},{"t":3,"R":24.4,"A":0.63},{"t":3,"R":24.9,"A":0.31},{"t":3,"R":25.2,"A":0.07},{"t":3,"R":25.6,"A":0.02},{"t":3,"R":26.3,"A":0.045},{"t":3,"R":27.1,"A":0.01},{"t":3,"R":27.8,"A":0.03},{"t":3,"R":28.4,"A":0.045},{"t":3,"R":29.6,"A":0.04},{"t":3,"R":30.2,"A":0.02},{"t":3,"R":30.9,"A":0.027},{"t":3,"R":31.9,"A":0.045},{"t":3,"R":32.7,"A":0.02},{"t":3,"R":33.8,"A":0.025},{"t":3,"R":34.4,"A":0.015},{"t":3,"R":35,"A":0.045},{"t":3,"R":36,"A":0.02},{"t":3,"R":37.1,"A":0.035},{"t":3,"R":38.1,"A":0.025},{"t":3,"R":39.1,"A":0.058},{"t":3,"R":40,"A":0.02},
{"t":4,"R":0,"A":0.05},{"t":4,"R":0.1,"A":0.1},{"t":4,"R":0.6,"A":0.36},{"t":4,"R":1.2,"A":0.6},{"t":4,"R":1.8,"A":0.79},{"t":4,"R":2.3,"A":0.89},{"t":4,"R":2.9,"A":0.92},{"t":4,"R":3.7,"A":0.93},{"t":4,"R":4.3,"A":0.95},{"t":4,"R":4.6,"A":0.92},{"t":4,"R":5.1,"A":0.71},{"t":4,"R":5.6,"A":0.55},{"t":4,"R":6.1,"A":0.39},{"t":4,"R":6.6,"A":0.28},{"t":4,"R":7,"A":0.3},{"t":4,"R":7.6,"A":0.32},{"t":4,"R":8.2,"A":0.29},{"t":4,"R":8.6,"A":0.28},{"t":4,"R":9.2,"A":0.26},{"t":4,"R":9.7,"A":0.15},{"t":4,"R":10,"A":0.06},{"t":4,"R":10.5,"A":0.11},{"t":4,"R":10.9,"A":0.07},{"t":4,"R":11.4,"A":0.14},{"t":4,"R":12,"A":0.15},{"t":4,"R":12.4,"A":0.11},{"t":4,"R":12.9,"A":0.085},{"t":4,"R":13.6,"A":0.14},{"t":4,"R":14.4,"A":0.16},{"t":4,"R":15,"A":0.085},{"t":4,"R":15.5,"A":0.14},{"t":4,"R":16.1,"A":0.125},{"t":4,"R":16.9,"A":0.125},{"t":4,"R":17.5,"A":0.15},{"t":4,"R":18,"A":0.24},{"t":4,"R":18.3,"A":0.125},{"t":4,"R":18.8,"A":0.06},{"t":4,"R":19.4,"A":0.11},{"t":4,"R":20,"A":0.15},{"t":4,"R":20.5,"A":0.125},{"t":4,"R":21,"A":0.18},{"t":4,"R":21.5,"A":0.2},{"t":4,"R":21.9,"A":0.28},{"t":4,"R":22.3,"A":0.32},{"t":4,"R":22.5,"A":0.24},{"t":4,"R":22.9,"A":0.2},{"t":4,"R":23.5,"A":0.44},{"t":4,"R":23.9,"A":0.68},{"t":4,"R":24.2,"A":0.71},{"t":4,"R":24.6,"A":0.52},{"t":4,"R":25.2,"A":0.26},{"t":4,"R":25.7,"A":0.34},{"t":4,"R":26.2,"A":0.42},{"t":4,"R":26.6,"A":0.28},{"t":4,"R":27.1,"A":0.125},{"t":4,"R":27.7,"A":0.07},{"t":4,"R":28.1,"A":0.11},{"t":4,"R":28.5,"A":0.085},{"t":4,"R":28.9,"A":0.13},{"t":4,"R":29.5,"A":0.07},{"t":4,"R":30.1,"A":0.03},{"t":4,"R":31,"A":0.02},{"t":4,"R":31.6,"A":0.01},{"t":4,"R":32.2,"A":0.025},{"t":4,"R":33,"A":0.045},{"t":4,"R":33.4,"A":0.077},{"t":4,"R":33.8,"A":0.025},{"t":4,"R":35.1,"A":0.02},{"t":4,"R":36.3,"A":0.013},{"t":4,"R":37.2,"A":0.045},{"t":4,"R":38.2,"A":0.037},{"t":4,"R":39.3,"A":0.045},{"t":4,"R":40,"A":0.07}
],
"evol": [
{"time":0.5,"s":"Ωbar","v":24.8},{"time":0.85,"s":"Ωbar","v":21.7},{"time":1.3,"s":"Ωbar","v":18.6},{"time":1.8,"s":"Ωbar","v":15.55},{"time":2.8,"s":"Ωbar","v":12.45},{"time":4.5,"s":"Ωbar","v":9.33},
{"time":0.5,"s":"RILR","v":0.25},{"time":0.85,"s":"RILR","v":0.25},{"time":1.3,"s":"RILR","v":0.6},{"time":1.8,"s":"RILR","v":0.63},{"time":2.8,"s":"RILR","v":2.3},{"time":4.5,"s":"RILR","v":5.35},
{"time":0.5,"s":"RCR","v":8.3},{"time":0.85,"s":"RCR","v":9.5},{"time":1.3,"s":"RCR","v":11.0},{"time":1.8,"s":"RCR","v":13.05},{"time":2.8,"s":"RCR","v":15.85},{"time":4.5,"s":"RCR","v":20.6},
{"time":0.5,"s":"ROLR","v":13.45},{"time":0.85,"s":"ROLR","v":14.8},{"time":1.3,"s":"ROLR","v":16.9},{"time":1.8,"s":"ROLR","v":19.8},{"time":2.8,"s":"ROLR","v":23.35},{"time":4.5,"s":"ROLR","v":26.95}
]
},
"hconcat": [
 {
  "vconcat": [
   {
    "data": {"name": "top"},
    "facet": {"column": {"field": "t", "type": "ordinal", "header": null}},
    "spacing": 0,
    "bounds": "flush",
    "spec": {
     "width": 161, "height": 150,
     "layer": [
      {"transform": [{"filter": "datum.kind == 'c'"}],
       "mark": {"type": "line", "interpolate": "cardinal-closed", "strokeWidth": 1.4, "clip": true},
       "encoding": {
        "x": {"field": "R", "type": "quantitative", "scale": {"domain": [0, 40], "nice": false}, "axis": {"title": "R [kpc]", "values": [0, 10, 20, 30], "labelPadding": 2, "titlePadding": 4}},
        "y": {"field": "Om", "type": "quantitative", "scale": {"domain": [0, 45], "nice": false}, "axis": {"title": "Ω [km/s/kpc]", "values": [0, 5, 10, 15, 20, 25, 30, 35, 40], "tickCount": 12, "labelOverlap": false, "minExtent": 24, "maxExtent": 24}},
        "detail": {"field": "cid"},
        "color": {"field": "lev", "type": "ordinal", "scale": {"domain": [1, 2, 3, 4, 5, 6, 7], "range": ["#440154", "#443983", "#31688e", "#21918c", "#35b779", "#90d743", "#fde725"]}, "legend": null},
        "order": {"value": null}
       }},
      {"transform": [{"filter": "datum.kind == 'cu'"}],
       "mark": {"type": "line", "color": "black", "strokeWidth": 1.4, "clip": true, "interpolate": "monotone"},
       "encoding": {
        "x": {"field": "R", "type": "quantitative"},
        "y": {"field": "Om", "type": "quantitative"},
        "detail": {"field": "cv"},
        "strokeDash": {"field": "cv", "type": "nominal", "scale": {"domain": ["solid", "dashed", "dashdot"], "range": [[1, 0], [5.5, 2.4], [9.6, 2.4, 1.5, 2.4]]}, "legend": null}
       }},
      {"transform": [{"filter": "datum.kind == 'v' && datum.res == 'ILR'"}],
       "mark": {"type": "rule", "color": "#1f77b4", "strokeWidth": 1.4},
       "encoding": {"x": {"field": "R", "type": "quantitative"}}},
      {"transform": [{"filter": "datum.kind == 'v' && datum.res == 'CR'"}],
       "mark": {"type": "rule", "color": "#ff7f0e", "strokeWidth": 1.4},
       "encoding": {"x": {"field": "R", "type": "quantitative"}}},
      {"transform": [{"filter": "datum.kind == 'v' && datum.res == 'OLR'"}],
       "mark": {"type": "rule", "color": "#2ca02c", "strokeWidth": 1.4},
       "encoding": {"x": {"field": "R", "type": "quantitative"}}},
      {"transform": [{"filter": "datum.kind == 'h'"}],
       "mark": {"type": "rule", "color": "black", "strokeWidth": 1.4},
       "encoding": {"y": {"field": "Om", "type": "quantitative"}}},
      {"transform": [{"filter": "datum.kind == 'lab'"}],
       "mark": {"type": "text", "fontSize": 11, "align": "center", "baseline": "middle", "color": "black"},
       "encoding": {"x": {"datum": 25.3, "type": "quantitative"}, "y": {"datum": 39.4, "type": "quantitative"}, "text": {"field": "lab"}}}
     ]
    }
   },
   {
    "data": {"name": "a2"},
    "facet": {"column": {"field": "t", "type": "ordinal", "header": null}},
    "spacing": 0,
    "bounds": "flush",
    "spec": {
     "width": 161, "height": 150,
     "layer": [
      {"transform": [{"filter": "isValid(datum.A)"}],
       "mark": {"type": "line", "color": "#1f77b4", "strokeWidth": 1.5},
       "encoding": {
        "x": {"field": "R", "type": "quantitative", "scale": {"domain": [0, 40], "nice": false}, "axis": {"title": "R [kpc]", "values": [0, 10, 20, 30], "labelPadding": 2, "titlePadding": 3}},
        "y": {"field": "A", "type": "quantitative", "scale": {"domain": [0, 1.2], "nice": false}, "axis": {"title": "A₂/A₀", "values": [0, 0.2, 0.4, 0.6, 0.8, 1.0, 1.2], "tickCount": 12, "format": ".1f", "labelOverlap": false, "minExtent": 24, "maxExtent": 24}}
       }},
      {"transform": [{"filter": "isValid(datum.lab)"}],
       "mark": {"type": "text", "fontSize": 11, "align": "center", "baseline": "middle", "color": "black"},
       "encoding": {"x": {"datum": 25.3, "type": "quantitative"}, "y": {"datum": 1.075, "type": "quantitative"}, "text": {"field": "lab"}}}
     ]
    }
   }
  ],
  "spacing": 3
 },
 {
  "vconcat": [
   {"data": {"values": [{"a": 0}]}, "mark": {"type": "rule", "opacity": 0}, "encoding": {}, "width": 406, "height": 1, "view": {"stroke": null}},
   {
    "data": {"name": "evol"},
    "width": 406, "height": 318,
    "layer": [
     {"transform": [{"filter": "datum.s == 'Ωbar'"}],
      "mark": {"type": "line", "strokeWidth": 1.2},
      "encoding": {
       "x": {"field": "time", "type": "quantitative", "scale": {"domain": [0.5, 4.5], "nice": false}, "axis": {"title": "Time [Gyr]", "values": [0.5, 1, 1.5, 2, 2.5, 3, 3.5, 4, 4.5], "format": ".1f"}},
       "y": {"field": "v", "type": "quantitative", "scale": {"domain": [8.55, 25.75], "nice": false, "zero": false}, "axis": {"title": "Ω [km/s/kpc]", "values": [10, 12, 14, 16, 18, 20, 22, 24], "tickCount": 12, "titlePadding": 8}},
       "color": {"field": "s", "type": "nominal", "scale": {"domain": ["Ωbar"], "range": ["black"]}, "legend": {"orient": "none", "legendX": 14, "legendY": 9}}
      }},
     {"transform": [{"filter": "datum.s != 'Ωbar'"}],
      "mark": {"type": "line", "strokeWidth": 1.2},
      "encoding": {
       "x": {"field": "time", "type": "quantitative"},
       "y": {"field": "v", "type": "quantitative", "scale": {"domain": [0, 40], "nice": false}, "axis": {"orient": "right", "title": "R [kpc]", "titleAngle": -90, "titleBaseline": "top", "titlePadding": 4, "tickCount": 12, "values": [0, 5, 10, 15, 20, 25, 30, 35, 40]}},
       "color": {"field": "s", "type": "nominal", "scale": {"domain": ["RILR", "RCR", "ROLR"], "range": ["#1f77b4", "#ff7f0e", "#2ca02c"]}, "legend": {"orient": "none", "legendX": 298, "legendY": 9}}
      }}
    ],
    "resolve": {"scale": {"y": "independent", "color": "independent"}}
   }
  ],
  "spacing": 3
 }
],
"spacing": 25
}
